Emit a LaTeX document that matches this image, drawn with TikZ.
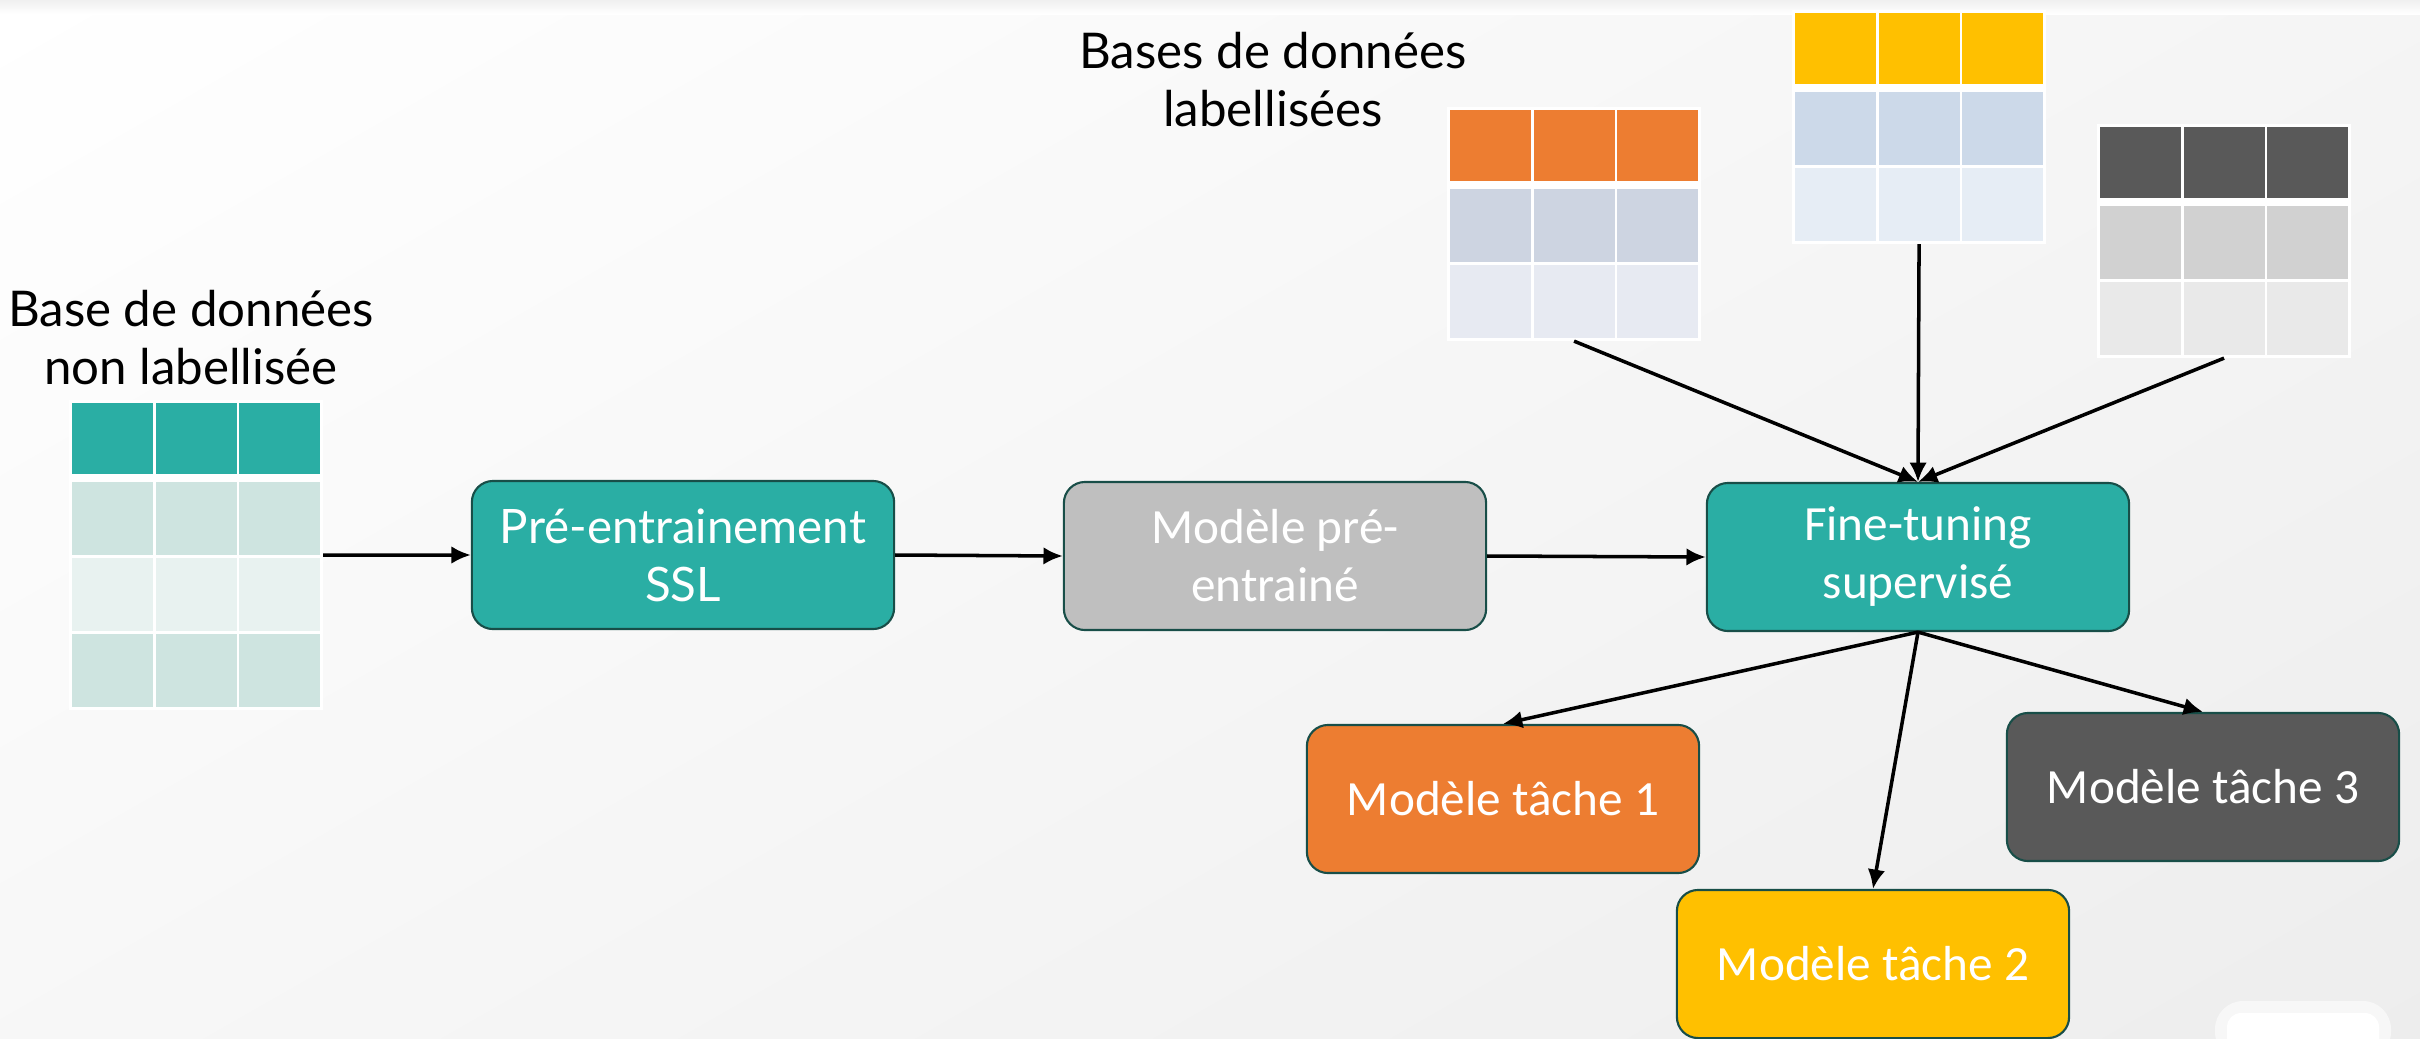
\documentclass[tikz,border=0pt]{standalone}
\usepackage{fontspec}
\setmainfont{Lato}
\newfontfamily\narrowfont{Carlito}
\usepackage{tikz}
\usetikzlibrary{arrows.meta,positioning,calc,shadings}
\definecolor{tealHead}{RGB}{42,174,164}
\definecolor{tealRowA}{RGB}{206,228,224}
\definecolor{tealRowB}{RGB}{232,242,240}
\definecolor{orangeHead}{RGB}{237,125,49}
\definecolor{slateRowA}{RGB}{205,212,225}
\definecolor{slateRowB}{RGB}{231,234,242}
\definecolor{yellowHead}{RGB}{255,192,0}
\definecolor{blueRowA}{RGB}{204,217,233}
\definecolor{blueRowB}{RGB}{230,237,245}
\definecolor{grayHead}{RGB}{89,89,89}
\definecolor{grayRowA}{RGB}{209,209,209}
\definecolor{grayRowB}{RGB}{233,233,233}
\definecolor{modelGray}{RGB}{191,191,191}
\definecolor{boxBorder}{RGB}{24,78,72}

\begin{document}
\begin{tikzpicture}[x=0.01cm,y=-0.01cm,
    procbox/.style={draw=boxBorder, line width=0.6pt, rounded corners=6pt, minimum width=42.2mm, minimum height=14.8mm, align=center, text=white, font=\fontsize{13.5}{16.5}\selectfont},
    narrowbox/.style={procbox, font=\narrowfont\fontsize{14}{16.5}\selectfont},
    taskbox/.style={narrowbox, minimum width=39.2mm},
    dbtitle/.style={align=center, font=\fontsize{14}{16.5}\selectfont},
    tablebg/.style={fill=white, inner sep=0pt, outer sep=0pt, minimum width=25.4mm},
    flow/.style={->, >={Latex[length=5.5pt,width=5pt]}, line width=1pt}]

  \useasboundingbox (0,0) rectangle (2420,1039);

  % background of the slide
  \shade[upper left=white, upper right=black!4, lower left=black!3, lower right=black!7] (0,0) rectangle (2420,1039);
  \shade[top color=black!6, bottom color=white] (0,0) rectangle (2420,14);
  \fill[black!3, rounded corners=8pt] (2215,1001) rectangle (2391,1060);
  \fill[white, rounded corners=4pt] (2227,1013) rectangle (2379,1060);

  % draw the tables
  \def\tables{tabU/72/403/4/tealHead/tealRowA/tealRowB,
    tabO/1450/110/3/orangeHead/slateRowA/slateRowB,
    tabY/1795/13/3/yellowHead/blueRowA/blueRowB,
    tabG/2100/127/3/grayHead/grayRowA/grayRowB}

  \foreach \nm/\tx/\ty/\nr/\hc/\rowA/\rowB in \tables
  {
    \pgfmathsetmacro\tabH{(71+8+(\nr-1)*73+(\nr-2)*3+6)/10}
    \node[tablebg, anchor=north west, minimum height=\tabH mm] (\nm) at (\tx-3,\ty-3) {};
    \foreach \col in {0,1,2}
    {
      \fill[fill=\hc] (\tx+\col*83.5,\ty) rectangle +(81,71);
      \foreach \row in {2,...,\nr}
      {
        \pgfmathsetmacro\ry{\ty+79+(\row-2)*76}
        \pgfmathtruncatemacro\odd{mod(\row,2)}
        \ifnum\odd=0 \def\rc{\rowA}\else\def\rc{\rowB}\fi
        \fill[fill=\rc] (\tx+\col*83.5,\ry) rectangle +(81,73);
      }
    }
  }

  % titles of the databases
  \node[dbtitle] (unlabTitle) at (191,338) {Base de données\\non labellisée};
  \node[dbtitle] (labTitle) at (1273,80) {Bases de données\\labellisées};

  % the steps
  \node[procbox, fill=tealHead] (pretrain) at (683,555) {Pré-entrainement\\SSL};
  \node[narrowbox, fill=modelGray] (pretrained) at (1275,556) {Modèle pré-\\entrainé};
  \node[narrowbox, fill=tealHead] (finetune) at (1918,557) {Fine-tuning\\supervisé};
  \node[taskbox, fill=orangeHead] (task1) at (1503,799) {Modèle tâche 1};
  \node[taskbox, fill=yellowHead] (task2) at (1873,964) {Modèle tâche 2};
  \node[taskbox, fill=grayHead] (task3) at (2203,787) {Modèle tâche 3};

  % connect them
  \draw[flow] (tabU.east) -- (pretrain.west);
  \draw[flow] (pretrain.east) -- (pretrained.west);
  \draw[flow] (pretrained.east) -- (finetune.west);
  \foreach \t in {tabO,tabY,tabG}
    \draw[flow] (\t.south) -- (finetune.north);
  \foreach \t in {task1,task2,task3}
    \draw[flow] (finetune.south) -- (\t.north);

\end{tikzpicture}
\end{document}
